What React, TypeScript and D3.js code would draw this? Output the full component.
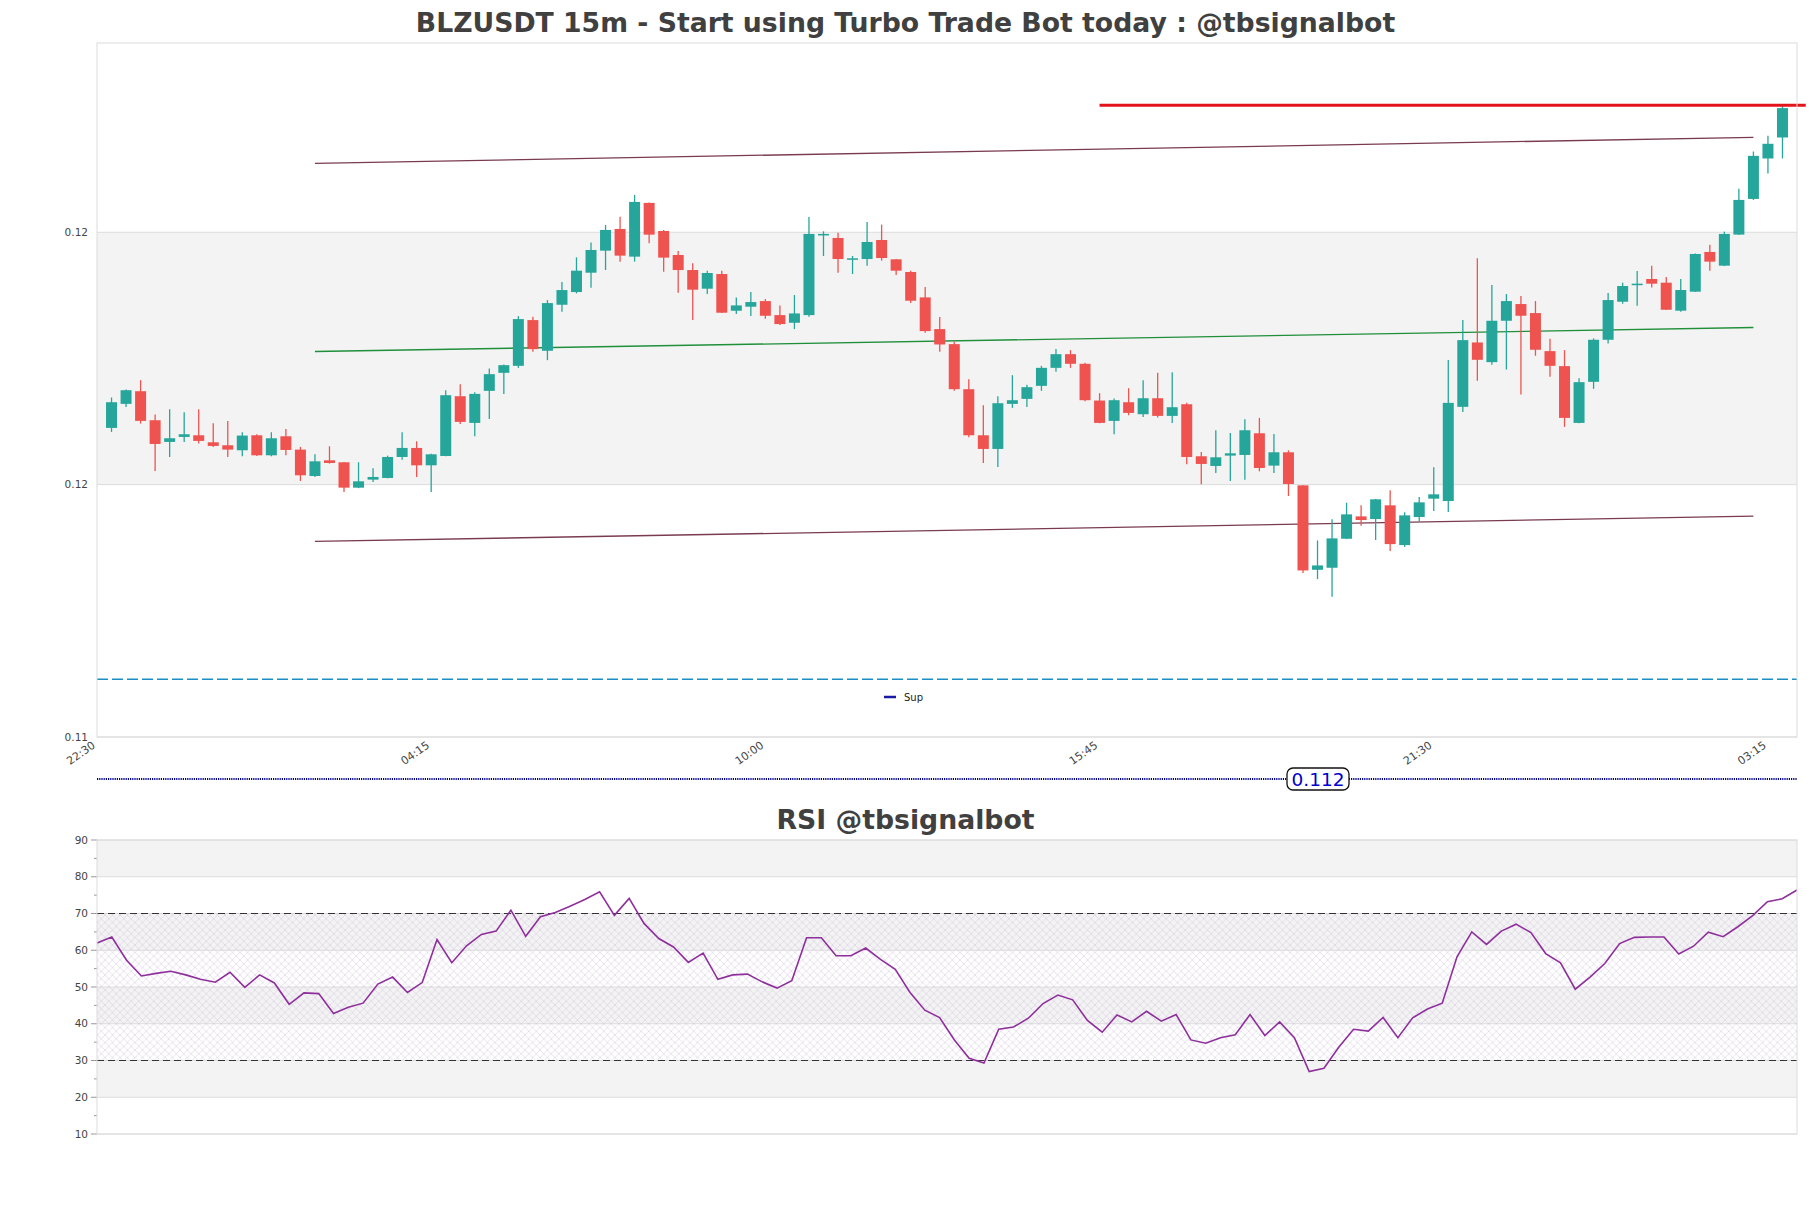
import React from "react";
import * as d3 from "d3";

const W = 1811;
const H = 1208;

// 15m candles, index 0 = 22:45
const opens = [
  0.116124, 0.1166, 0.116851, 0.116276, 0.115846, 0.115945, 0.115978, 0.115839, 0.11578, 0.115681,
  0.115978, 0.115581, 0.115958, 0.115694, 0.115171, 0.115482, 0.115443, 0.11494, 0.115099, 0.115132,
  0.115548, 0.115727, 0.115383, 0.115568, 0.116752, 0.116223, 0.116858, 0.117215, 0.117354, 0.11826,
  0.117652, 0.118564, 0.118816, 0.119199, 0.119636, 0.120066, 0.119517, 0.120582, 0.120026, 0.11955,
  0.119252, 0.118882, 0.119173, 0.118445, 0.118525, 0.118637, 0.118359, 0.118207, 0.118359, 0.11994,
  0.119887, 0.119464, 0.11947, 0.119847, 0.119464, 0.119213, 0.11871, 0.118082, 0.117784, 0.116891,
  0.115978, 0.115707, 0.1166, 0.116699, 0.116957, 0.117314, 0.117585, 0.117394, 0.116666, 0.116263,
  0.116633, 0.116395, 0.116712, 0.116362, 0.116593, 0.115562, 0.11537, 0.115575, 0.115588, 0.116018,
  0.115377, 0.115641, 0.114986, 0.113313, 0.113353, 0.113928, 0.114371, 0.114318, 0.11459, 0.113803,
  0.114358, 0.114722, 0.114676, 0.116541, 0.117817, 0.117427, 0.118247, 0.118578, 0.118399, 0.117645,
  0.117348, 0.116223, 0.117037, 0.11787, 0.118624, 0.118961, 0.119074, 0.119001, 0.118446, 0.118823,
  0.11961, 0.119338, 0.119954, 0.120661, 0.121462, 0.121878,
];
const highs = [
  0.116726, 0.116884, 0.11707, 0.116388, 0.116494, 0.116435, 0.116494, 0.116216, 0.116263, 0.116038,
  0.115998, 0.116038, 0.116104, 0.115747, 0.115601, 0.11576, 0.11545, 0.115443, 0.115324, 0.115575,
  0.116038, 0.115859, 0.11561, 0.116871, 0.11699, 0.116831, 0.117301, 0.11738, 0.118339, 0.118326,
  0.118657, 0.119014, 0.119504, 0.119795, 0.120145, 0.12031, 0.12074, 0.12059, 0.120046, 0.119629,
  0.119384, 0.119239, 0.119239, 0.11871, 0.118816, 0.118677, 0.118551, 0.118756, 0.120304, 0.120019,
  0.119993, 0.11953, 0.120205, 0.120152, 0.11947, 0.119239, 0.118915, 0.11832, 0.117837, 0.117089,
  0.116574, 0.116752, 0.117169, 0.116977, 0.117354, 0.117685, 0.117665, 0.117414, 0.116812, 0.116706,
  0.116911, 0.11707, 0.117215, 0.117228, 0.11662, 0.115648, 0.116077, 0.116025, 0.116296, 0.116322,
  0.116005, 0.115681, 0.11499, 0.113895, 0.114312, 0.114642, 0.11459, 0.114715, 0.114887, 0.114451,
  0.114755, 0.115344, 0.117467, 0.11826, 0.119484, 0.118955, 0.118776, 0.118737, 0.118637, 0.11789,
  0.117665, 0.11711, 0.117897, 0.118796, 0.119001, 0.119233, 0.119338, 0.119114, 0.119074, 0.119578,
  0.119755, 0.120013, 0.12086, 0.1216, 0.121911, 0.122507,
];
const lows = [
  0.116044, 0.11654, 0.11621, 0.115271, 0.115548, 0.115846, 0.115813, 0.115747, 0.115548, 0.115562,
  0.115568, 0.115562, 0.115581, 0.115072, 0.115151, 0.115416, 0.114854, 0.11493, 0.115052, 0.115125,
  0.115495, 0.115152, 0.114854, 0.11556, 0.116203, 0.115958, 0.116302, 0.116798, 0.117314, 0.117632,
  0.117466, 0.118425, 0.118789, 0.118902, 0.119252, 0.119418, 0.119418, 0.119781, 0.119219, 0.118802,
  0.11826, 0.118776, 0.1184, 0.118379, 0.118339, 0.118287, 0.118161, 0.118082, 0.118326, 0.11953,
  0.119199, 0.119173, 0.119338, 0.119437, 0.119153, 0.118597, 0.118009, 0.117632, 0.116858, 0.115939,
  0.115429, 0.11535, 0.116521, 0.11654, 0.116858, 0.117235, 0.117314, 0.116653, 0.116215, 0.115998,
  0.116375, 0.116342, 0.116329, 0.116223, 0.115403, 0.115006, 0.115231, 0.115072, 0.115099, 0.115264,
  0.115231, 0.114775, 0.113247, 0.113128, 0.112777, 0.11392, 0.114186, 0.113902, 0.113683, 0.113763,
  0.114272, 0.114477, 0.114457, 0.116441, 0.117057, 0.117374, 0.117281, 0.116785, 0.117553, 0.117136,
  0.116144, 0.116215, 0.116898, 0.117797, 0.118584, 0.118545, 0.118908, 0.118458, 0.118426, 0.118815,
  0.119239, 0.11933, 0.119947, 0.120641, 0.121164, 0.121462,
];
const closes = [
  0.116633, 0.116871, 0.116263, 0.115806, 0.115919, 0.115998, 0.115866, 0.115767, 0.115694, 0.115972,
  0.115581, 0.115919, 0.115687, 0.115185, 0.115462, 0.115429, 0.11494, 0.115066, 0.115152, 0.115548,
  0.115727, 0.115383, 0.115601, 0.116772, 0.116243, 0.116798, 0.117189, 0.117367, 0.11828, 0.117685,
  0.118597, 0.118855, 0.119239, 0.119649, 0.120046, 0.119537, 0.120601, 0.119953, 0.119497, 0.119252,
  0.118862, 0.119193, 0.118406, 0.118551, 0.118617, 0.118346, 0.118181, 0.118392, 0.119967, 0.119967,
  0.11947, 0.119484, 0.119808, 0.11949, 0.119239, 0.118644, 0.118042, 0.117777, 0.116891, 0.115978,
  0.115707, 0.116613, 0.116673, 0.116931, 0.117314, 0.117585, 0.117394, 0.116673, 0.116223, 0.116673,
  0.116421, 0.116712, 0.116362, 0.116534, 0.115548, 0.11541, 0.115542, 0.115621, 0.116078, 0.11533,
  0.115641, 0.115013, 0.1133, 0.113399, 0.113935, 0.114411, 0.114299, 0.114709, 0.113822, 0.114391,
  0.114649, 0.114808, 0.11662, 0.117863, 0.117473, 0.118247, 0.118637, 0.118346, 0.117672, 0.117354,
  0.116322, 0.11703, 0.11787, 0.118657, 0.118935, 0.118981, 0.118981, 0.118465, 0.118856, 0.11957,
  0.119418, 0.119967, 0.120641, 0.121514, 0.121753, 0.12246,
];

const rsiValues = [
  62.0, 63.6, 57.3, 53.0, 53.7, 54.3, 53.3, 52.1, 51.3, 54.0,
  49.9, 53.3, 51.1, 45.3, 48.4, 48.2, 42.8, 44.5, 45.6, 50.8,
  52.7, 48.5, 51.2, 62.9, 56.6, 61.2, 64.3, 65.2, 70.9, 63.8,
  69.1, 70.3, 72.0, 73.8, 75.9, 69.5, 74.1, 67.3, 63.2, 60.9,
  56.7, 59.2, 52.1, 53.3, 53.5, 51.4, 49.7, 51.7, 63.4, 63.4,
  58.5, 58.5, 60.6, 57.5, 54.8, 48.5, 43.7, 41.7, 35.6, 30.6,
  29.3, 38.5, 39.1, 41.5, 45.5, 47.8, 46.5, 40.9, 37.7, 42.4,
  40.5, 43.4, 40.7, 42.5, 35.6, 34.7, 36.2, 37.0, 42.5, 36.8,
  40.5, 36.2, 27.0, 27.9, 33.6, 38.5, 38.0, 41.7, 36.2, 41.6,
  44.0, 45.6, 58.2, 65.0, 61.6, 65.2, 67.1, 64.8, 59.1, 56.6,
  49.4, 52.7, 56.4, 61.8, 63.5, 63.6, 63.6, 59.0, 61.1, 64.9,
  63.7, 66.4, 69.4, 73.2, 74.0, 76.4,
];

const timeTickIndex = [-1, 22, 45, 68, 91, 114];
const timeTickLabels = ["22:30", "04:15", "10:00", "15:45", "21:30", "03:15"];
const priceTicks = [0.11, 0.115, 0.12, 0.125];
const rsiTicks = [10, 20, 30, 40, 50, 60, 70, 80, 90];
const rsiLevels = [70, 30];

// channel lines: [startIndex, endIndex] and prices at both ends
const channelSpan = [14, 113];
const channelUpper = [0.121366, 0.121881];
const channelMid = [0.117638, 0.118113];
const channelLower = [0.113875, 0.114376];
const resistanceSpan = [68, 116.6];
const resistance = 0.122515;
const support = 0.111143;
const supportTag = "0.112";

const GREEN = "#26a69a";
const RED = "#ef5350";
const BAND = "#f3f3f3";
const GRID = "#dcdcdc";
const TEXT = "#444";

export default function App() {
  const left = 97;
  const right = 1797;
  const top = 43;
  const bottom = 737;

  const x = d3.scaleLinear().domain([-1, 116]).range([left, right]);
  const y = d3.scaleLinear().domain([0.11, 0.12375]).range([bottom, top]);
  const fmt = d3.format(".2f");

  const rTop = 840;
  const rBottom = 1134;
  const rx = d3.scaleLinear().domain([0, rsiValues.length - 1]).range([left, right]);
  const ry = d3.scaleLinear().domain([10, 90]).range([rBottom, rTop]);
  const rsiLine = d3.line<number>().x((_, i) => rx(i)).y((v) => ry(v));

  const bodyW = 11;
  const tagY = 779;

  const clampY = (v: number) => Math.max(top, Math.min(bottom, y(v)));

  return (
    <svg
      width={W}
      height={H}
      style={{ position: "absolute", left: 0, top: 0, background: "#fff" }}
      fontFamily="DejaVu Sans, sans-serif"
    >
      <defs>
        <pattern id="hatch" width={7.5} height={7.5} patternUnits="userSpaceOnUse">
          <path d="M0,0L7.5,7.5M0,7.5L7.5,0" stroke="#d2c3dc" strokeWidth={0.6} opacity={0.8} />
        </pattern>
      </defs>
      <rect width={W} height={H} fill="#fff" />

      {/* main title */}
      <text x={W / 2} y={32} textAnchor="middle" fontSize={26.7} fontWeight="bold" fill="#404040">
        BLZUSDT 15m - Start using Turbo Trade Bot today : @tbsignalbot
      </text>

      {/* price bands + grid */}
      {d3.pairs(priceTicks).map(([a, b], k) =>
        k % 2 === 1 ? (
          <rect key={"pb" + k} x={left} width={right - left} y={clampY(b)} height={clampY(a) - clampY(b)} fill={BAND} />
        ) : null
      )}
      {priceTicks.filter((t) => y(t) >= top && y(t) <= bottom).map((t) => (
        <g key={"pt" + t}>
          <line x1={left} x2={right} y1={y(t)} y2={y(t)} stroke={GRID} strokeWidth={1} />
          <text x={88} y={y(t) + 3.5} textAnchor="end" fontSize={10.5} fill={TEXT}>
            {fmt(t)}
          </text>
        </g>
      ))}

      {/* channel */}
      {[channelUpper, channelLower].map((c, k) => (
        <line key={"ch" + k} x1={x(channelSpan[0])} x2={x(channelSpan[1])} y1={y(c[0])} y2={y(c[1])} stroke="#7a3b50" strokeWidth={1.3} />
      ))}
      <line x1={x(channelSpan[0])} x2={x(channelSpan[1])} y1={y(channelMid[0])} y2={y(channelMid[1])} stroke="#1f8f3a" strokeWidth={1.3} />

      {/* candles */}
      {opens.map((o, i) => {
        const c = closes[i];
        const col = c >= o ? GREEN : RED;
        const yt = y(Math.max(o, c));
        const yb = y(Math.min(o, c));
        return (
          <g key={"c" + i}>
            <line x1={x(i)} x2={x(i)} y1={y(highs[i])} y2={y(lows[i])} stroke={col} strokeWidth={1.3} />
            <rect x={x(i) - bodyW / 2} width={bodyW} y={yt} height={Math.max(1.5, yb - yt)} fill={col} />
          </g>
        );
      })}

      {/* resistance / support */}
      <line x1={x(resistanceSpan[0])} x2={x(resistanceSpan[1])} y1={y(resistance)} y2={y(resistance)} stroke="#e3121b" strokeWidth={3} />
      <line x1={left} x2={right} y1={y(support)} y2={y(support)} stroke="#1b8fc4" strokeWidth={1.4} strokeDasharray="11,4" />

      {/* legend */}
      <line x1={884} x2={896} y1={697} y2={697} stroke="#1a1aa6" strokeWidth={2.5} />
      <text x={904} y={701} fontSize={10} fill="#222">Sup</text>

      <rect x={left} y={top} width={right - left} height={bottom - top} fill="none" stroke={GRID} strokeWidth={1} />

      {/* time ticks */}
      {timeTickIndex.map((t, k) => (
        <text key={"tt" + k} transform={`translate(${x(t) - 1},${bottom + 10}) rotate(-35)`} textAnchor="end" fontSize={11} fill={TEXT}>
          {timeTickLabels[k]}
        </text>
      ))}

      {/* support tag row */}
      <line x1={left} x2={right} y1={tagY} y2={tagY} stroke="#00008b" strokeWidth={2} strokeDasharray="1.2,1" />
      <rect x={1287} y={tagY - 11} width={62} height={22} rx={6} fill="#fff" stroke="#111" strokeWidth={1.3} />
      <text x={1318} y={tagY + 6.5} textAnchor="middle" fontSize={18.5} fill="#0000cc">
        {supportTag}
      </text>

      {/* RSI panel */}
      <text x={W / 2} y={829} textAnchor="middle" fontSize={26.7} fontWeight="bold" fill="#404040">
        RSI @tbsignalbot
      </text>
      {d3.pairs(rsiTicks).map(([a, b], k) =>
        k % 2 === 1 ? (
          <rect key={"rb" + k} x={left} width={right - left} y={ry(b)} height={ry(a) - ry(b)} fill={BAND} />
        ) : null
      )}
      {rsiTicks.map((t) => (
        <g key={"rt" + t}>
          <line x1={left} x2={right} y1={ry(t)} y2={ry(t)} stroke={GRID} strokeWidth={1} />
          <line x1={left - 6} x2={left} y1={ry(t)} y2={ry(t)} stroke="#999" strokeWidth={1} />
          <text x={88} y={ry(t) + 3.5} textAnchor="end" fontSize={10.5} fill={TEXT}>
            {t}
          </text>
        </g>
      ))}
      {d3.range(15, 90, 10).map((t) => (
        <line key={"rm" + t} x1={left - 3} x2={left} y1={ry(t)} y2={ry(t)} stroke="#999" strokeWidth={1} />
      ))}
      <rect x={left} width={right - left} y={ry(rsiLevels[0])} height={ry(rsiLevels[1]) - ry(rsiLevels[0])} fill="url(#hatch)" />
      {rsiLevels.map((l) => (
        <line key={"lv" + l} x1={left} x2={right} y1={ry(l)} y2={ry(l)} stroke="#333" strokeWidth={1.2} strokeDasharray="7,4" />
      ))}
      <path d={rsiLine(rsiValues) || ""} fill="none" stroke="#8e2f9c" strokeWidth={1.6} />
      <rect x={left} y={rTop} width={right - left} height={rBottom - rTop} fill="none" stroke={GRID} strokeWidth={1} />
    </svg>
  );
}
